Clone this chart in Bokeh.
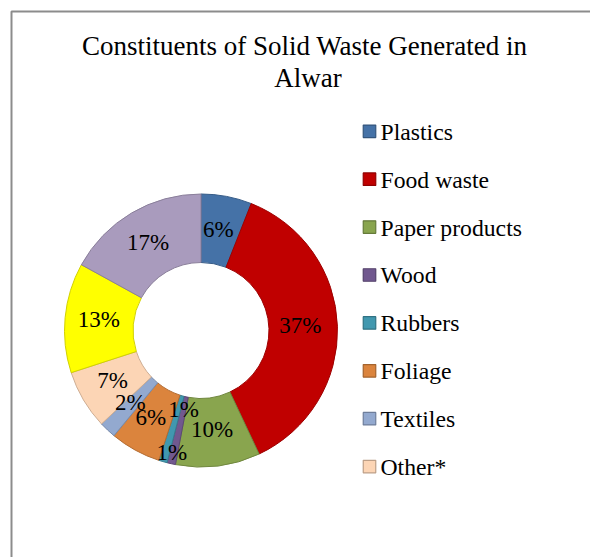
import math
from bokeh.plotting import figure
from bokeh.models import Range1d, ColumnDataSource
from bokeh.core.properties import value
from bokeh.embed import file_html
from bokeh.resources import INLINE

# ---------------- data ----------------
title_lines = ["Constituents of Solid Waste Generated  in", "Alwar"]
categories = ["Plastics", "Food waste", "Paper products", "Wood", "Rubbers",
              "Foliage", "Textiles", "Other*", "", ""]
percent = [6, 37, 10, 1, 1, 6, 2, 7, 13, 17]
colors = ["#4572A7", "#C00000", "#89A54E", "#71588F", "#4198AF",
          "#DB843D", "#93A9CF", "#FCD5B5", "#FFFF00", "#A99BBD"]
in_legend = [True, True, True, True, True, True, True, True, False, False]

# ---------------- layout / style ----------------
W, H = 590, 557
FONT = "Liberation Serif"
cx, cy = 200.5, -330.0          # page px coords (y negated)
r_out, r_in = 136.5, 68.0
r_lab = 101.0
# per-label radius / angular shift (Excel moved the two tiny labels)
lab_r = [r_lab] * len(percent)
lab_shift = [0.0] * len(percent)
lab_r[3] = 127.0
lab_r[4] = 82.0
lab_shift[4] = -5.0


def darker(hexc, f=0.8):
    h = hexc.lstrip("#")
    r, g, b = (int(h[i:i + 2], 16) for i in (0, 2, 4))
    return "#%02x%02x%02x" % (int(r * f), int(g * f), int(b * f))


p = figure(width=W, height=H, output_backend="svg", toolbar_location=None,
           x_range=Range1d(0, W), y_range=Range1d(-H, 0),
           min_border=0, tools="")
p.axis.visible = False
p.xgrid.visible = False
p.ygrid.visible = False
p.outline_line_color = None
p.background_fill_color = "white"
p.border_fill_color = "white"

# chart-area frame (left and top edges visible)
p.line(x=[11, 11, 700], y=[-700, -11, -11], line_color="#8c8c8c", line_width=2)

# wedges
total = float(sum(percent))
starts, ends, mids = [], [], []
cum = 0.0
for v in percent:
    a0 = math.pi / 2 - 2 * math.pi * cum / total
    cum += v
    a1 = math.pi / 2 - 2 * math.pi * cum / total
    starts.append(a1)
    ends.append(a0)
    mids.append((a0 + a1) / 2)

src = ColumnDataSource(dict(start=starts, end=ends, color=colors,
                            line=[darker(c, 0.82) for c in colors]))
p.annular_wedge(x=cx, y=cy, inner_radius=r_in, outer_radius=r_out,
                start_angle="start", end_angle="end", fill_color="color",
                line_color="line", line_width=1, source=src)

# data labels
lx, ly, lt = [], [], []
for i, v in enumerate(percent):
    a = mids[i] + math.radians(-lab_shift[i])
    lx.append(cx - 1.5 + lab_r[i] * math.cos(a))
    ly.append(cy + 1.5 + lab_r[i] * math.sin(a))
    lt.append("%d%%" % v)
p.text(x=lx, y=ly, text=lt, text_font=value(FONT), text_font_size="23px",
       text_align="center", text_baseline="middle", text_color="black")

# title
p.text(x=[307.5, 307.5], y=[-45.2, -77.6], text=title_lines, text_font=value(FONT),
       text_font_size="27px", text_align="center",
       text_baseline="middle", text_color="black")

# legend
leg_x, leg_y0, leg_dy, box = 369.0, -130.8, 47.9, 12.5
mx, my, mc, ml, tx, ty, tt = [], [], [], [], [], [], []
k = 0
for i, name in enumerate(categories):
    if not in_legend[i]:
        continue
    mx.append(leg_x)
    my.append(leg_y0 - k * leg_dy)
    mc.append(colors[i])
    ml.append(darker(colors[i], 0.75))
    tx.append(380.0)
    ty.append(-131.2 - k * leg_dy)
    tt.append(name)
    k += 1
p.rect(x=mx, y=my, width=box, height=box, fill_color=mc, line_color=ml,
       line_width=1.2)
p.text(x=tx, y=ty, text=tt, text_font=value(FONT), text_font_size="23.7px",
       text_align="left", text_baseline="middle", text_color="black")

open("out.html", "w").write(file_html(p, INLINE))
